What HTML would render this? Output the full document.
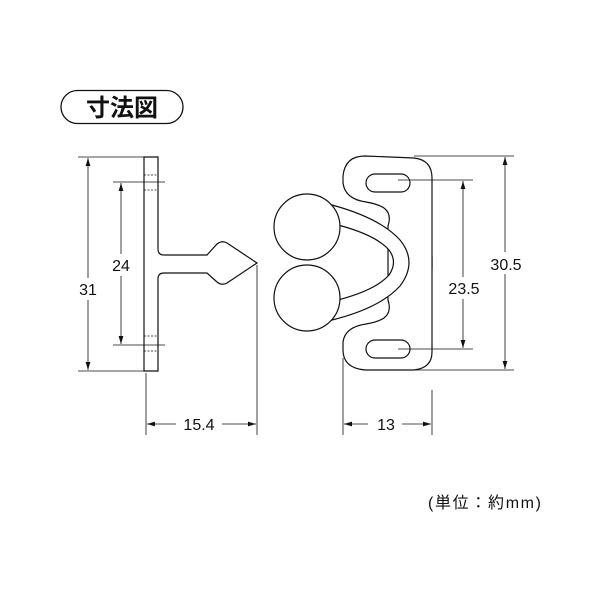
<!DOCTYPE html>
<html><head><meta charset="utf-8"><style>
body{margin:0;background:#fff}
svg{display:block}
text{font-family:"Liberation Sans","Noto Sans CJK JP",sans-serif;fill:#111}
</style></head><body>
<svg width="600" height="600" viewBox="0 0 600 600" xmlns="http://www.w3.org/2000/svg">
<defs>
<marker id="a" viewBox="0 0 10 10" refX="10" refY="5" markerWidth="8" markerHeight="8" orient="auto-start-reverse" markerUnits="userSpaceOnUse"><path d="M0,2 L10,5 L0,8 Z" fill="#111"/></marker>
</defs>
<rect x="61" y="90.5" width="122" height="33" rx="16.5" fill="none" stroke="#111" stroke-width="1.3"/>
<text x="122" y="116" font-size="24" font-weight="bold" text-anchor="middle">寸法図</text>

<g fill="none" stroke="#111" stroke-width="1.2">
<path d="M144,157 H158 V249 Q158,255 164,255 H207 L217,244 Q222,240 227,243 L257,263 L227,283 Q222,286 217,282 L207,273 H164 Q158,273 158,279 V371 H144 Z" fill="#fff"/>
<path d="M144,175 H158 M144,190 H158 M144,336 H158 M144,351 H158" stroke-dasharray="2,1.5" stroke-width="0.8"/>
</g>
<g stroke="#111" stroke-width="0.8" fill="none">
<path d="M78,157 H144 M78,371 H144 M113,182 H165 M113,345 H165"/>
<line x1="88" y1="158" x2="88" y2="370" marker-start="url(#a)" marker-end="url(#a)"/>
<line x1="121" y1="183" x2="121" y2="344" marker-start="url(#a)" marker-end="url(#a)"/>
<path d="M146,373 V435 M257,265 V435"/>
<line x1="147" y1="424" x2="176" y2="424" marker-start="url(#a)"/>
<line x1="222" y1="424" x2="256" y2="424" marker-end="url(#a)"/>
</g>
<rect x="108" y="254" width="26" height="22" fill="#fff"/>
<text x="121" y="271" font-size="16" text-anchor="middle">24</text>
<rect x="74" y="278" width="28" height="22" fill="#fff"/>
<text x="88" y="295" font-size="16" text-anchor="middle">31</text>
<text x="199" y="430" font-size="16" text-anchor="middle">15.4</text>

<g fill="none" stroke="#111" stroke-width="1.2">
<rect x="410" y="257" width="22" height="11" fill="#fff"/>
<path d="M365,156 L414,158 Q432,160 432,178 V352 Q432,368 414,370 L365,370 Q343,368 343,350 V342 Q345,327 366,324 Q378,322 384,318 Q392,312 388,300 V226 Q392,214 384,208 Q378,204 366,202 Q345,199 343,183 V176 Q345,156 365,156 Z" fill="#fff"/>
<path d="M332,205 Q380,218 400,240 Q418,262 400,286 Q380,308 332,320 L338,300 Q376,290 389,275 Q398,262 389,250 Q376,235 338,225 Z" fill="#fff"/>
<circle cx="307" cy="227" r="33" fill="#fff"/>
<circle cx="307" cy="298" r="33" fill="#fff"/>
<rect x="366" y="174" width="44" height="18" rx="9" fill="#fff"/>
<rect x="366" y="340" width="44" height="18" rx="9" fill="#fff"/>
</g>
<g stroke="#111" stroke-width="0.8" fill="none">
<path d="M414,156 H514 M414,370 H514 M398,180 H473 M398,349 H473"/>
<line x1="505" y1="157" x2="505" y2="369" marker-start="url(#a)" marker-end="url(#a)"/>
<line x1="463" y1="181" x2="463" y2="348" marker-start="url(#a)" marker-end="url(#a)"/>
<path d="M343,358 V435 M432,390 V435"/>
<line x1="344" y1="424" x2="368" y2="424" marker-start="url(#a)"/>
<line x1="402" y1="424" x2="431" y2="424" marker-end="url(#a)"/>
</g>
<rect x="482" y="252" width="48" height="22" fill="#fff"/>
<text x="506" y="270" font-size="16" text-anchor="middle">30.5</text>
<rect x="442" y="277" width="44" height="22" fill="#fff"/>
<text x="464" y="294" font-size="16" text-anchor="middle">23.5</text>
<text x="386" y="430" font-size="16" text-anchor="middle">13</text>
<text x="541" y="508" font-size="16" text-anchor="end" textLength="113" lengthAdjust="spacing">(単位：約mm)</text>
</svg>
</body></html>
